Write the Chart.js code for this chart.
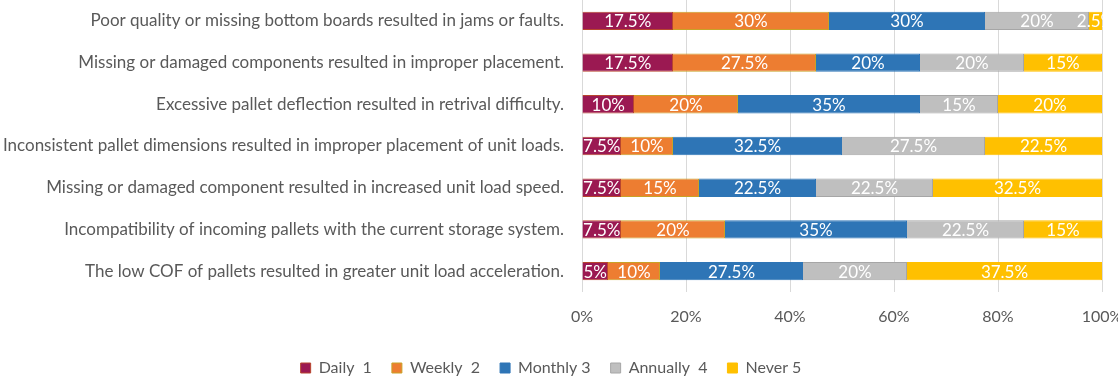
<!DOCTYPE html>
<html>
<head>
<meta charset="utf-8">
<script src="https://cdn.jsdelivr.net/npm/chart.js@4.4.0/dist/chart.umd.min.js"></script>
<style>
  html, body { margin: 0; padding: 0; background: #fff; }
  #wrap { width: 1118px; height: 384px; }
</style>
</head>
<body>
<div id="wrap"><canvas id="barchart"></canvas></div>
<script>
const labels = [
  'Poor quality or missing bottom boards resulted in jams or faults.',
  'Missing or damaged components resulted in improper placement.',
  'Excessive pallet deflection resulted in retrival difficulty.',
  'Inconsistent pallet dimensions resulted in improper placement of unit loads.',
  'Missing or damaged component resulted in increased unit load speed.',
  'Incompatibility of incoming pallets with the current storage system.',
  'The low COF of pallets resulted in greater unit load acceleration.'
];

const daily = [17.5, 17.5, 10, 7.5, 7.5, 7.5, 5];
const weekly = [30, 27.5, 20, 10, 15, 20, 10];
const monthly = [30, 20, 35, 32.5, 22.5, 35, 27.5];
const annually = [20, 20, 15, 27.5, 22.5, 22.5, 20];
const never = [2.5, 15, 20, 22.5, 32.5, 15, 37.5];

const seriesNames = ['Daily  1', 'Weekly  2', 'Monthly 3', 'Annually  4', 'Never 5'];
const xTicks = [0, 20, 40, 60, 80, 100];

const FONT = 'Lato';
const GREY = '#595959';

// white value labels inside the bars
const valueLabels = {
  id: 'valueLabels',
  afterDatasetsDraw(chart) {
    const ctx = chart.ctx;
    ctx.save();
    ctx.font = '17px ' + FONT;
    ctx.fillStyle = '#fff';
    ctx.textAlign = 'center';
    ctx.textBaseline = 'middle';
    chart.data.datasets.forEach((ds, i) => {
      chart.getDatasetMeta(i).data.forEach((bar, j) => {
        const x = (bar.x + bar.base) / 2;
        ctx.fillText(ds.data[j] + '%', x, bar.y + 1);
      });
    });
    ctx.restore();
  }
};

// no auto padding from tick labels, keep the plot where the original has it
function noPad(s) {
  s.paddingTop = 0;
  s.paddingBottom = 0;
  s.paddingLeft = 0;
  s.paddingRight = 0;
}

const data = {
  labels: labels,
  datasets: [
    { label: seriesNames[0], data: daily, backgroundColor: '#9B1952', borderColor: '#B8452E', borderWidth: 1 },
    { label: seriesNames[1], data: weekly, backgroundColor: '#ED7D31', borderColor: '#C9A227', borderWidth: 1 },
    { label: seriesNames[2], data: monthly, backgroundColor: '#2E75B6', borderColor: '#2E75B6', borderWidth: 1 },
    { label: seriesNames[3], data: annually, backgroundColor: '#BFBFBF', borderColor: '#A6A6A6', borderWidth: 1 },
    { label: seriesNames[4], data: never, backgroundColor: '#FFC000', borderColor: '#FFC000', borderWidth: 1 }
  ]
};

const config = {
  type: 'bar',
  data: data,
  plugins: [valueLabels],
  options: {
    indexAxis: 'y',
    responsive: true,
    maintainAspectRatio: false,
    animation: false,
    barPercentage: 0.44,
    categoryPercentage: 1,
    layout: { padding: { top: 0, right: 16, bottom: -2, left: 0 } },
    plugins: {
      tooltip: { enabled: false },
      legend: {
        position: 'bottom',
        labels: {
          boxWidth: 10,
          boxHeight: 10,
          padding: 20,
          color: GREY,
          font: { family: FONT, size: 16 }
        }
      }
    },
    scales: {
      x: {
        stacked: true,
        min: 0,
        max: 100,
        afterFit: (s) => { s.height = 48; noPad(s); },
        afterBuildTicks: (s) => { s.ticks = xTicks.map(v => ({ value: v })); },
        grid: { color: '#D9D9D9', drawTicks: false },
        border: { display: false },
        ticks: {
          padding: 15,
          color: GREY,
          font: { family: FONT, size: 16 },
          callback: (v) => v + '%'
        }
      },
      y: {
        stacked: true,
        afterFit: (s) => { s.width = 582; noPad(s); },
        grid: { display: false, drawTicks: false },
        border: { display: false },
        ticks: {
          padding: 18,
          color: GREY,
          font: { family: FONT, size: 17 }
        }
      }
    }
  }
};

const myChart = new Chart(document.getElementById('barchart'), config);
</script>
</body>
</html>
